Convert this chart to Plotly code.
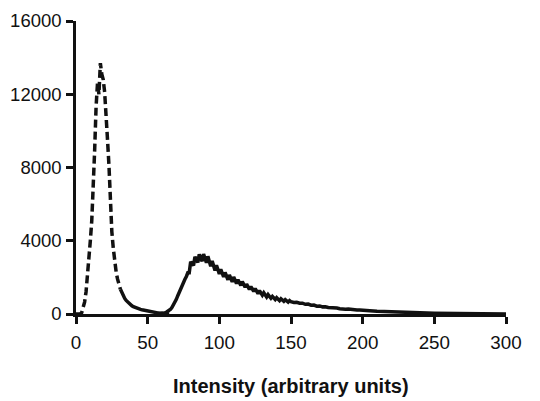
import plotly.graph_objects as go

# dashed population (low intensity peak)
low_x = list(range(0, 66))
low_y = [0, 0, 0, 0, 80, 300, 650, 1200, 2000, 3000, 4000,
         5100, 6800, 8900, 11300, 12600, 12000, 13700, 13100, 12800, 12100,
         11000, 9500, 8100, 5900, 4500, 3600, 2800, 2300, 1900, 1600,
         1350, 1150, 1000, 850, 740, 650, 570, 500, 450, 400,
         360, 330, 300, 270, 250, 230, 210, 190, 170, 150,
         135, 120, 105, 95, 80, 70, 60, 50, 40, 30,
         20, 12, 6, 2, 0]

# solid population (high intensity peak)
high_x = (list(range(56, 151)) + list(range(152, 201, 2))
          + list(range(205, 301, 5)))
high_y = [0, 5, 10, 15, 25, 40, 60, 95, 140, 200,
          260, 360, 480, 620, 800, 1000, 1200, 1400, 1580, 1750,
          1900, 2050, 2250, 2250, 2850, 2750, 2650, 3120, 2980, 2820,
          3260, 3070, 2880, 3270, 3050, 2800, 3150, 2880, 2600, 2900,
          2650, 2380, 2660, 2410, 2190, 2440, 2230, 2030, 2270, 2070,
          1870, 2130, 1940, 1750, 2020, 1830, 1670, 1870, 1720, 1560,
          1770, 1610, 1470, 1630, 1480, 1340, 1500, 1360, 1230, 1390,
          1250, 1110, 1280, 1140, 1030, 1160, 1050, 930, 1060, 950,
          860, 960, 870, 790, 890, 810, 730, 835, 760, 695,
          780, 715, 650, 735, 670,
          630, 640, 590, 590, 530, 540, 480, 490, 430, 440,
          390, 400, 360, 360, 320, 330, 290, 300, 265, 270,
          240, 245, 215, 220, 195,
          175, 150, 130, 110, 95, 80, 70, 60, 52, 45,
          38, 33, 28, 23, 19, 15, 11, 8, 5, 2]

x_ticks = [0, 50, 100, 150, 200, 250, 300]
y_ticks = [0, 4000, 8000, 12000, 16000]

ink = "#111111"
cut = 31  # dashes vanish where the segments get short

fig = go.Figure()
fig.add_trace(go.Scatter(x=low_x[:cut + 1], y=low_y[:cut + 1], mode="lines",
                         line=dict(color=ink, width=3.5, dash="8px,4px")))
fig.add_trace(go.Scatter(x=low_x[cut:], y=low_y[cut:], mode="lines",
                         line=dict(color=ink, width=3.5)))
fig.add_trace(go.Scatter(x=high_x, y=high_y, mode="lines",
                         line=dict(color=ink, width=3.5)))

# page body has an 8px margin, so the figure is a bit smaller than the window
fig.update_layout(
    width=532, height=393,
    margin=dict(l=68, r=34, t=13, b=87),
    plot_bgcolor="white", paper_bgcolor="white",
    showlegend=False,
    font=dict(family="Liberation Sans, Arial", size=18.8, color=ink),
)
fig.update_xaxes(range=[0, 300], tickvals=x_ticks, showgrid=False, zeroline=False,
                 showline=True, linecolor=ink, linewidth=2.5, automargin=False,
                 ticks="outside", ticklen=7, tickwidth=2.5, tickcolor=ink,
                 ticklabelstandoff=3)
fig.update_yaxes(range=[0, 16000], tickvals=y_ticks, tickformat="d",
                 showgrid=False, zeroline=False, automargin=False,
                 showline=True, linecolor=ink, linewidth=2.5,
                 ticks="outside", ticklen=7, tickwidth=2.5, tickcolor=ink,
                 ticklabelstandoff=1, tickfont=dict(size=18.5))

fig.add_annotation(text="<b>Intensity (arbitrary units)</b>", xref="paper", yref="paper",
                   x=0.5, y=-0.246, yanchor="middle", showarrow=False,
                   font=dict(size=20, color=ink))

fig.write_html("out.html")
